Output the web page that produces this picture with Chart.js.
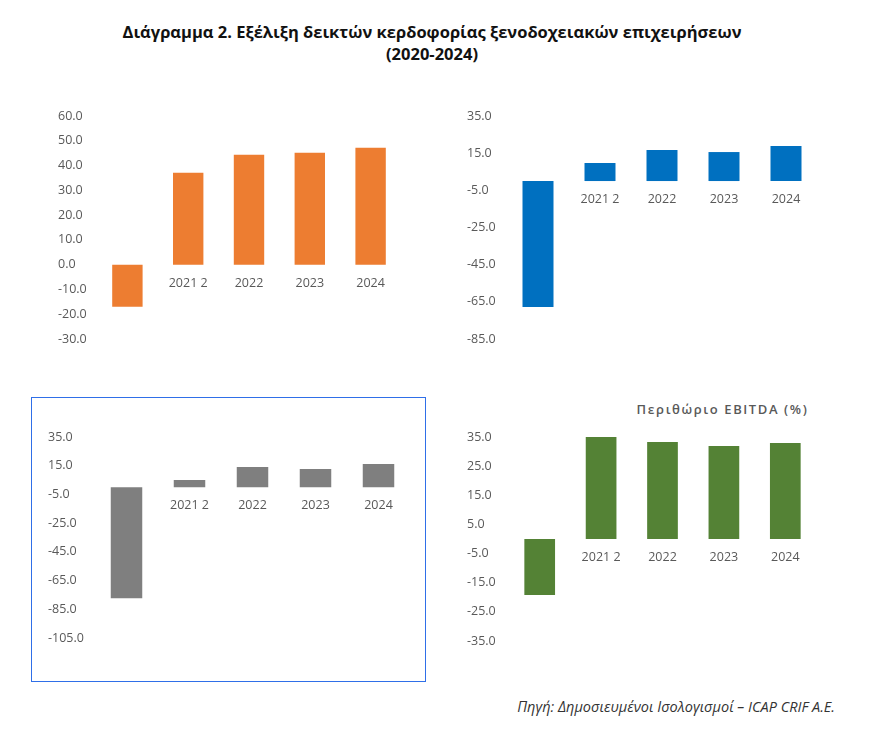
<!DOCTYPE html>
<html>
<head>
<meta charset="utf-8">
<script src="https://cdn.jsdelivr.net/npm/chart.js@4"></script>
<style>
  html, body { margin: 0; padding: 0; background: #fff; }
  body { width: 880px; height: 744px; position: relative; overflow: hidden; font-family: "Open Sans", "Noto Sans", sans-serif; }
  .title { position: absolute; left: -8px; width: 880px; top: 21px; text-align: center; font-weight: 700; font-size: 16.5px; line-height: 22px; color: #111; }
  .box { position: absolute; left: 31px; top: 397px; width: 393px; height: 283px; border: 1px solid #2f6fe8; }
  .sub { position: absolute; left: 600px; width: 245px; top: 400px; text-align: center; font-size: 13px; font-weight: 600; letter-spacing: 1.6px; color: #595959; }
  .src { position: absolute; right: 45px; top: 697px; font-style: italic; font-size: 14.5px; color: #333; }
  canvas { position: absolute; }
</style>
</head>
<body>
<div class="title">Διάγραμμα 2. Εξέλιξη δεικτών κερδοφορίας ξενοδοχειακών επιχειρήσεων<br>(2020-2024)</div>
<div class="box"></div>
<div class="sub">Περιθώριο EBITDA (%)</div>
<div class="src">Πηγή: Δημοσιευμένοι Ισολογισμοί – ICAP CRIF A.E.</div>

<canvas id="c1" width="343" height="243" style="left:58px;top:106px"></canvas>
<canvas id="c2" width="350" height="243" style="left:467px;top:106px"></canvas>
<canvas id="c3" width="362" height="221" style="left:48px;top:427px"></canvas>
<canvas id="c4" width="349" height="224" style="left:467px;top:427px"></canvas>

<script>
  const years = ["2020", "2021 2", "2022", "2023", "2024"];

  // chart values
  const orangeVals = [-17.0, 37.1, 44.4, 45.2, 47.2];
  const blueVals = [-67.8, 9.7, 16.7, 15.6, 18.8];
  const greyVals = [-77.3, 5.0, 14.1, 12.7, 16.2];
  const ebitdaVals = [-19.2, 35.0, 33.3, 31.9, 32.9];

  // y axis ranges: [min, max, step]
  const orangeAxis = [-30, 60, 10];
  const blueAxis = [-85, 35, 20];
  const greyAxis = [-105, 35, 20];
  const ebitdaAxis = [-35, 35, 10];

  const tickColor = "#595959";
  const tickFont = { family: "'Open Sans', 'Noto Sans', sans-serif", size: 12.5 };

  function makeChart(id, values, color, axis, yWidth) {
    new Chart(document.getElementById(id), {
      type: "bar",
      data: {
        labels: years,
        datasets: [{
          data: values,
          backgroundColor: color,
          borderWidth: 0,
          barPercentage: 0.5,
          categoryPercentage: 1,
        }],
      },
      options: {
        responsive: false,
        animation: false,
        devicePixelRatio: 1,
        layout: { padding: { top: 10, bottom: 10, left: 0, right: 0 } },
        plugins: { legend: { display: false }, tooltip: { enabled: false } },
        scales: {
          x: {
            position: { y: 0 },
            grid: { display: false, drawTicks: false },
            border: { display: false },
            ticks: { color: tickColor, font: tickFont, padding: 11, maxRotation: 0, autoSkip: false },
          },
          y: {
            min: axis[0],
            max: axis[1],
            grid: { display: false, drawTicks: false },
            border: { display: false },
            ticks: {
              stepSize: axis[2],
              color: tickColor,
              font: tickFont,
              crossAlign: "far",
              padding: 0,
              callback: (v) => Number(v).toFixed(1),
            },
            afterFit(scale) {
              scale.width = yWidth;
              scale.paddingTop = 0;
              scale.paddingBottom = 0;
            },
          },
        },
      },
    });
  }

  makeChart("c1", orangeVals, "#ED7D31", orangeAxis, 39);
  makeChart("c2", blueVals, "#0070C0", blueAxis, 40);
  makeChart("c3", greyVals, "#7F7F7F", greyAxis, 47);
  makeChart("c4", ebitdaVals, "#548235", ebitdaAxis, 42);
</script>
</body>
</html>
